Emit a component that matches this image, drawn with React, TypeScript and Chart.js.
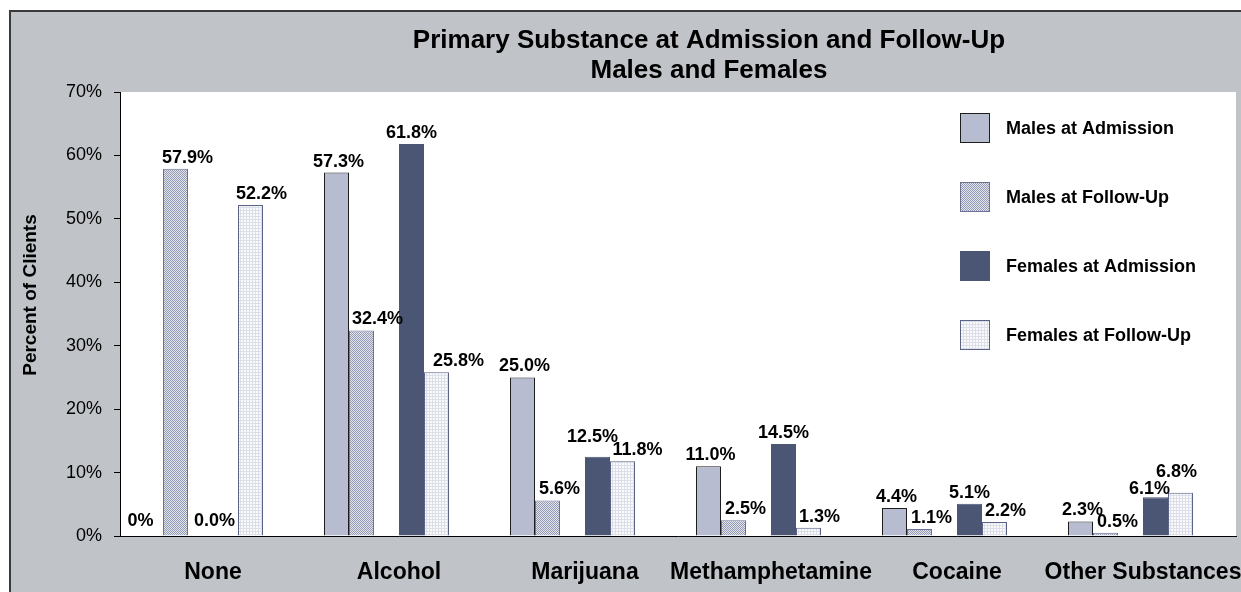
import React, { useEffect, useRef } from "react";
import { Chart, registerables } from "chart.js";

Chart.register(...registerables);

// ---- Data ----
const categories = ["None", "Alcohol", "Marijuana", "Methamphetamine", "Cocaine", "Other Substances"];
const seriesNames = ["Males at Admission", "Males at Follow-Up", "Females at Admission", "Females at Follow-Up"];
const malesAdmission = [0, 57.3, 25.0, 11.0, 4.4, 2.3];
const malesFollowUp = [57.9, 32.4, 5.6, 2.5, 1.1, 0.5];
const femalesAdmission = [0.0, 61.8, 12.5, 14.5, 5.1, 6.1];
const femalesFollowUp = [52.2, 25.8, 11.8, 1.3, 2.2, 6.8];
const yMin = 0;
const yMax = 70;
const yStep = 10;
const titleLines = ["Primary Substance at Admission and Follow-Up", "Males and Females"];
const yAxisTitle = "Percent of Clients";

// label placement tweaks (styling only): "series:category" -> [dx, extra dy]
const labelNudges: Record<string, [number, number]> = {
  "0:0": [-10, 0],
  "2:0": [-11, 0],
  "1:1": [16, 0],
  "2:2": [-5, -9],
  "3:1": [22, 0],
  "3:2": [15, 0],
  "2:5": [-6, 3],
  "3:5": [-4, -10],
};

const FONT = '"Liberation Sans", Arial, Helvetica, sans-serif';

function makePattern(kind: string): CanvasPattern | string {
  const c = document.createElement("canvas");
  const x = c.getContext("2d");
  if (!x) return "#ccc";
  if (kind === "dots") {
    c.width = 2;
    c.height = 2;
    x.fillStyle = "#E2E4EC";
    x.fillRect(0, 0, 2, 2);
    x.fillStyle = "#959BB6";
    x.fillRect(0, 0, 1, 1);
    x.fillRect(1, 1, 1, 1);
  } else {
    c.width = 3;
    c.height = 3;
    x.fillStyle = "#F9FAFC";
    x.fillRect(0, 0, 3, 3);
    x.fillStyle = "#DCDFE8";
    x.fillRect(0, 0, 3, 1);
    x.fillRect(0, 0, 1, 3);
  }
  return x.createPattern(c, "repeat") || "#ccc";
}

function formatLabel(v: number, series: number): string {
  if (v === 0 && series === 0) return "0%";
  return v.toFixed(1) + "%";
}

export default function App() {
  const ref = useRef<HTMLCanvasElement | null>(null);

  useEffect(() => {
    const canvas = ref.current;
    if (!canvas) return;
    const dotPat = makePattern("dots");
    const gridPat = makePattern("grid");

    const styles = [
      { fill: "#B8BCD1", border: "#1E1E1E", dx: 2 },
      { fill: dotPat, border: "#6B7294", dx: 12 },
      { fill: "#4B5675", border: "#4B5675", dx: 0 },
      { fill: gridPat, border: "#5B6386", dx: 11 },
    ];
    const values = [malesAdmission, malesFollowUp, femalesAdmission, femalesFollowUp];
    const empty = categories.map(() => null);

    const real = (i: number) => ({
      label: seriesNames[i],
      data: values[i],
      backgroundColor: styles[i].fill as any,
      borderColor: styles[i].border,
      borderWidth: 1,
      seriesIndex: i,
    });

    const datasets: any[] = [
      real(0),
      real(1),
      { label: "_gap1", data: empty, seriesIndex: -1 },
      real(2),
      real(3),
      { label: "_gap2", data: empty, seriesIndex: -1 },
    ];

    const bgPlugin = {
      id: "bgPlugin",
      beforeDraw(chart: any) {
        const { ctx, chartArea } = chart;
        const { left, top, right, bottom } = chartArea;
        ctx.save();
        ctx.fillStyle = "#FFFFFF";
        ctx.fillRect(0, 0, chart.width, chart.height);
        ctx.fillStyle = "#C0C3C8";
        ctx.fillRect(10, 11, chart.width, chart.height);
        ctx.strokeStyle = "#3A3A3A";
        ctx.lineWidth = 2;
        ctx.beginPath();
        ctx.moveTo(10, chart.height + 5);
        ctx.lineTo(10, 11);
        ctx.lineTo(chart.width + 5, 11);
        ctx.stroke();
        ctx.fillStyle = "#FFFFFF";
        ctx.fillRect(left, top, right - left, bottom - top);
        ctx.restore();
      },
    };

    const textPlugin = {
      id: "textPlugin",
      afterDatasetsDraw(chart: any) {
        const ctx = chart.ctx;
        ctx.save();
        ctx.fillStyle = "#000";
        ctx.font = `bold 18px ${FONT}`;
        ctx.textAlign = "center";
        ctx.textBaseline = "alphabetic";
        chart.data.datasets.forEach((ds: any, di: number) => {
          const s = ds.seriesIndex;
          if (s < 0) return;
          const meta = chart.getDatasetMeta(di);
          meta.data.forEach((bar: any, j: number) => {
            const v = ds.data[j];
            if (v === null || v === undefined) return;
            const gap = v === 0 ? 10 : 6;
            const n = labelNudges[`${s}:${j}`];
            const dx = n ? n[0] : styles[s].dx;
            const dy = n ? n[1] : 0;
            ctx.fillText(formatLabel(v, s), bar.x + dx, bar.y - gap + dy);
          });
        });
        ctx.restore();
      },
      afterDraw(chart: any) {
        const ctx = chart.ctx;
        ctx.save();
        ctx.fillStyle = "#000";
        // Title
        ctx.font = `bold 26px ${FONT}`;
        ctx.textAlign = "center";
        ctx.textBaseline = "alphabetic";
        ctx.fillText(titleLines[0], 709, 48);
        ctx.fillText(titleLines[1], 709, 78);
        // Y axis title
        ctx.save();
        ctx.translate(31, 295);
        ctx.rotate(-Math.PI / 2);
        ctx.font = `bold 19px ${FONT}`;
        ctx.textBaseline = "middle";
        ctx.fillText(yAxisTitle, 0, 0);
        ctx.restore();
        // Legend
        const lx = 960;
        const ly = 128;
        const step = 69;
        const box = 30;
        seriesNames.forEach((name, i) => {
          const cy = ly + i * step;
          ctx.fillStyle = styles[i].fill as any;
          ctx.fillRect(lx, cy - box / 2, box, box);
          if (i !== 2) {
            ctx.strokeStyle = styles[i].border;
            ctx.lineWidth = 1;
            ctx.strokeRect(lx + 0.5, cy - box / 2 + 0.5, box - 1, box - 1);
          }
          ctx.fillStyle = "#000";
          ctx.font = `bold 18px ${FONT}`;
          ctx.textAlign = "left";
          ctx.textBaseline = "middle";
          ctx.fillText(name, 1006, cy + 1);
        });
        ctx.restore();
      },
    };

    const chart = new Chart(canvas, {
      type: "bar",
      data: { labels: categories, datasets },
      options: {
        responsive: false,
        animation: false,
        devicePixelRatio: 1,
        layout: { padding: { left: 0, right: 5, top: 92, bottom: 0 } },
        datasets: {
          bar: { categoryPercentage: 150 / 186, barPercentage: 1 },
        },
        plugins: {
          legend: { display: false },
          title: { display: false },
          tooltip: { enabled: false },
        },
        scales: {
          x: {
            grid: { display: false },
            border: { display: true, color: "#000", width: 1 },
            ticks: {
              autoSkip: false,
              maxRotation: 0,
              minRotation: 0,
              color: "#000",
              font: { family: FONT, size: 23, weight: "bold" },
              padding: 15,
            },
            afterFit(scale: any) {
              scale.height = 56;
              scale.paddingLeft = 0;
              scale.paddingRight = 0;
            },
          },
          y: {
            min: yMin,
            max: yMax,
            grid: {
              drawOnChartArea: false,
              drawTicks: true,
              tickLength: 6,
              color: "#000",
            },
            border: { display: true, color: "#000", width: 1 },
            ticks: {
              stepSize: yStep,
              color: "#000",
              padding: 12,
              font: { family: FONT, size: 18 },
              callback: (v: any) => v + "%",
            },
            afterFit(scale: any) {
              scale.width = 120;
            },
          },
        },
      } as any,
      plugins: [bgPlugin, textPlugin],
    });
    return () => chart.destroy();
  }, []);

  return (
    <div style={{ position: "absolute", left: 0, top: 0, width: 1241, height: 592 }}>
      <canvas ref={ref} width={1241} height={592} style={{ display: "block" }} />
    </div>
  );
}
